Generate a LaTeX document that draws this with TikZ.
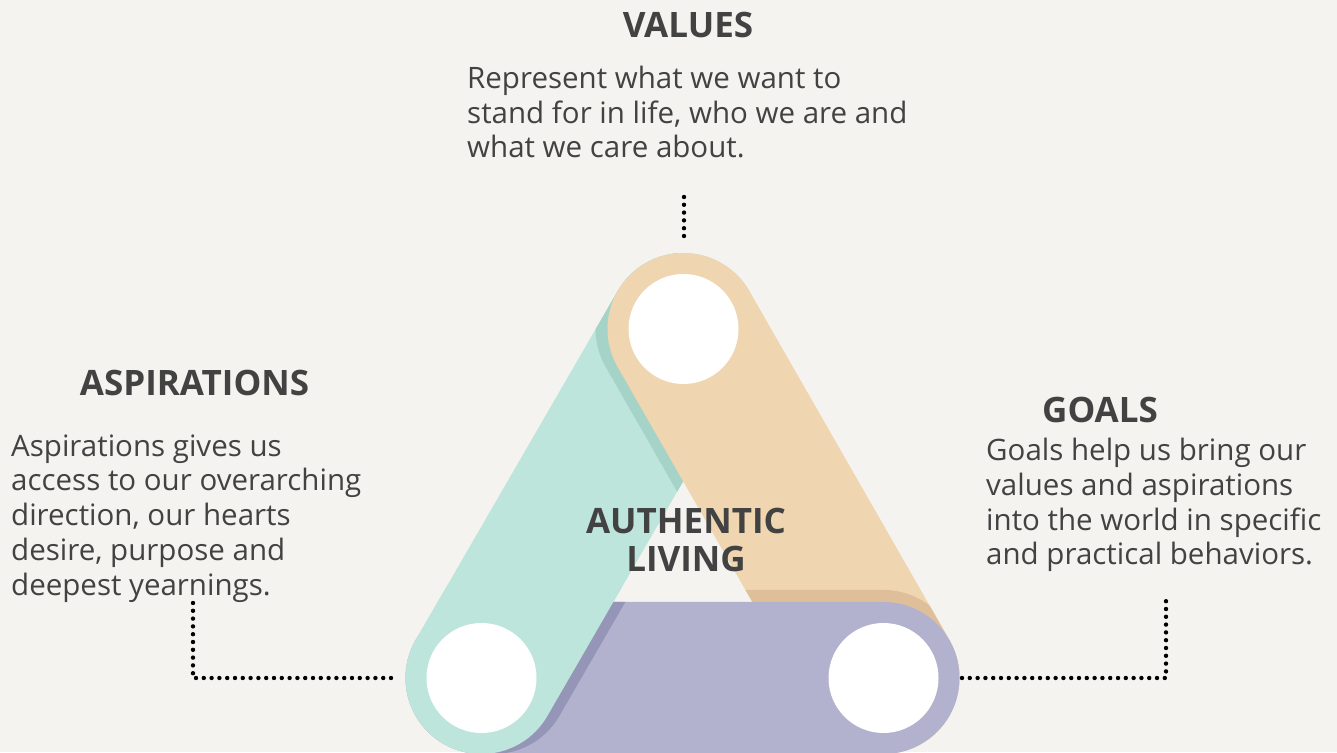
\documentclass[tikz,border=0pt]{standalone}
\usepackage{fontspec}
\setmainfont{Open Sans}
\usetikzlibrary{calc}

\definecolor{paper}{HTML}{F4F3EF}
\definecolor{ink}{HTML}{424242}
\definecolor{mint}{HTML}{BEE5DC}
\definecolor{mintdark}{HTML}{A6D3C8}
\definecolor{sand}{HTML}{EFD5B0}
\definecolor{sanddark}{HTML}{DEBF9A}
\definecolor{lilac}{HTML}{B2B1CE}
\definecolor{lilacdark}{HTML}{9595B8}

% rounded band from #1 to #2, #3 = direction, #4 = offset
\newcommand{\band}[4]{($(#1)+(#4)+(#3-90:76)$) -- ($(#2)+(#4)+(#3-90:76)$) arc[start angle=#3-90, delta angle=180, radius=76] -- ($(#1)+(#4)+(#3+90:76)$) arc[start angle=#3+90, delta angle=180, radius=76] -- cycle}

\begin{document}
\begin{tikzpicture}[x=1pt,y=1pt]
	\tikzset{hole/.style={circle,fill=white,minimum size=110pt,inner sep=0pt}}
	\tikzset{dots/.style={black,line width=4.4pt,line cap=round,dash pattern=on 0pt off 7.8pt}}
	\tikzset{title/.style={font=\bfseries\fontsize{35}{38}\selectfont,text=ink,inner sep=0pt,align=center,anchor=base}}
	\tikzset{blurb/.style={font=\fontsize{29.5}{34.7}\selectfont,text=ink,inner sep=0pt,align=left,anchor=base west}}
	\fill[paper] (0,0) rectangle (1337,752);
	\useasboundingbox (0,0) rectangle (1337,752);
	\coordinate (T) at (683.5,423);
	\coordinate (L) at (481.5,74);
	\coordinate (R) at (883.5,74);
	% left band with the shade of the top band on it
	\fill[mint] \band{L}{T}{60}{0,0};
	\begin{scope}
		\clip \band{L}{T}{60}{0,0};
		\fill[mintdark] \band{T}{R}{-60}{-12,0};
	\end{scope}
	\fill[sand] \band{T}{R}{-60}{0,0};
	\begin{scope}
		\clip \band{T}{R}{-60}{0,0};
		\fill[sanddark] \band{R}{L}{180}{0,12};
	\end{scope}
	\fill[lilac] \band{R}{L}{180}{0,0};
	\begin{scope}
		\clip \band{R}{L}{180}{0,0};
		\fill[lilacdark] \band{L}{T}{60}{12,0};
	\end{scope}
	% left band goes back over the bottom one
	\begin{scope}
		\clip (0,0) rectangle (683,165);
		\fill[mint] \band{L}{T}{60}{0,0};
	\end{scope}
	\node[hole] (top) at (T) {};
	\node[hole] (left) at (L) {};
	\node[hole] (right) at (R) {};

	\node[title] (values) at (688,714) {VALUES};
	\node[blurb] (valuestext) at (467,594) {Represent what we want to\\stand for in life, who we are and\\what we care about.};
	\node[title] (aspirations) at (194.5,356) {ASPIRATIONS};
	\node[blurb] (aspirationstext) at (11,157) {Aspirations gives us\\access to our overarching\\direction, our hearts\\desire, purpose and\\deepest yearnings.};
	\node[title] (goals) at (1100,329) {GOALS};
	\node[blurb] (goalstext) at (986,187) {Goals help us bring our\\values and aspirations\\into the world in specific\\and practical behaviors.};
	\node[title] (living) at (686,180) {AUTHENTIC\\LIVING};

	\coordinate (v1) at (684,555);
	\coordinate (v2) at (684,514);
	\coordinate (a1) at (193,149);
	\coordinate (a2) at (193,74);
	\coordinate (a3) at (397,74);
	\coordinate (g1) at (962,74);
	\coordinate (g2) at (1166,74);
	\coordinate (g3) at (1166,152);
	\draw[dots] (v1) -- (v2);
	\draw[dots] (a1) -- (a2) -- (a3);
	\draw[dots] (g1) -- (g2) -- (g3);
\end{tikzpicture}
\end{document}
